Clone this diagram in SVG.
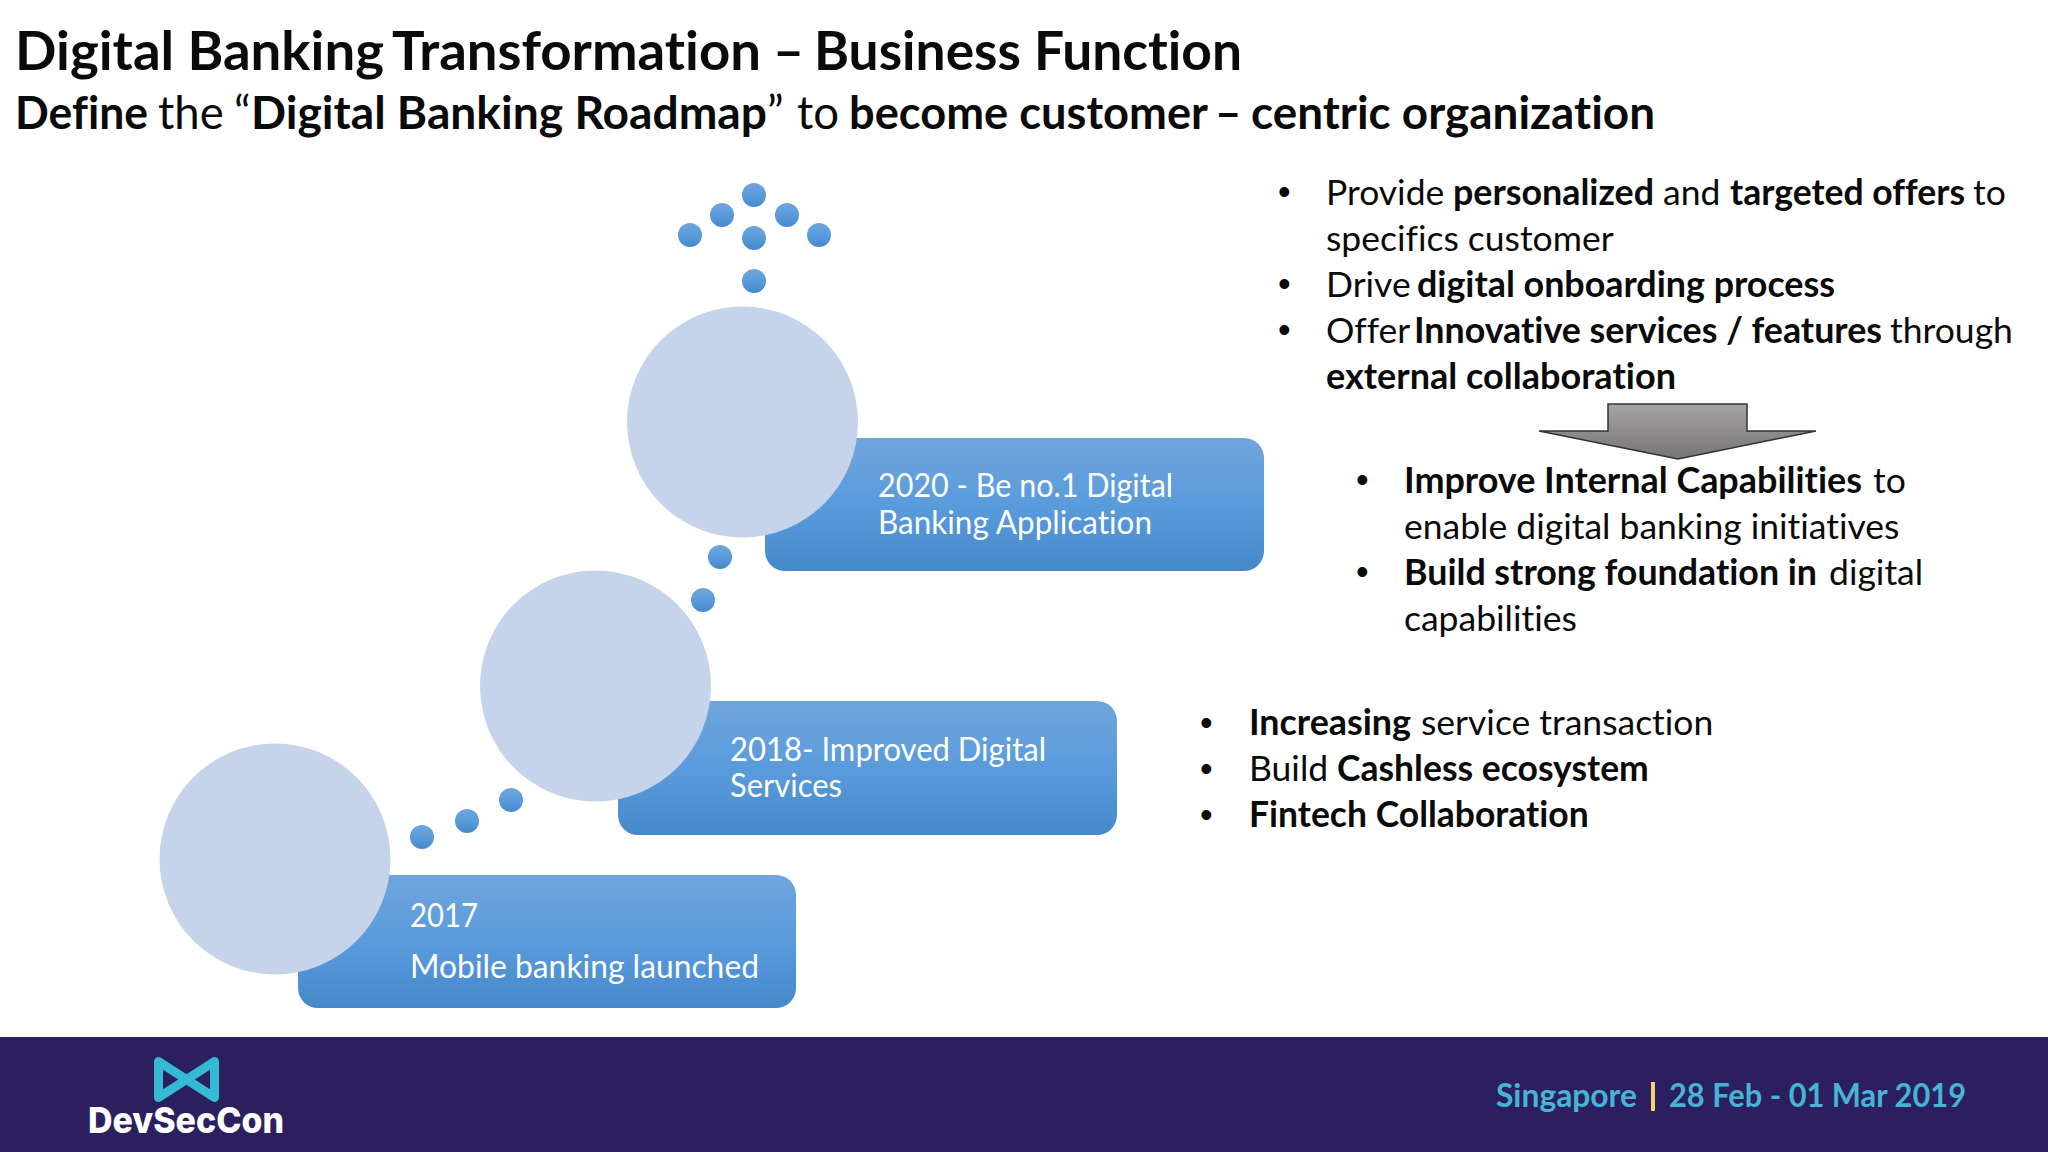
<svg xmlns="http://www.w3.org/2000/svg" width="2048" height="1152" viewBox="0 0 2048 1152">
<defs>
<linearGradient id="blue" x1="0" y1="0" x2="0" y2="1"><stop offset="0" stop-color="#70a5dc"/><stop offset="0.5" stop-color="#5a9bdc"/><stop offset="1" stop-color="#4589ca"/></linearGradient>
<linearGradient id="grey" x1="0" y1="0" x2="0" y2="1"><stop offset="0" stop-color="#a5a3a4"/><stop offset="1" stop-color="#767475"/></linearGradient>
</defs>
<style>
text{font-family:"Lato","Carlito","Liberation Sans",sans-serif;fill:#0a0a0a;font-variant-ligatures:none}
.b{font-weight:700}
.t{font-size:53.600px;font-weight:700}
.s{font-size:45.500px}
.p{font-size:35.500px}
.d{font-size:36px;font-family:"Liberation Sans",sans-serif}
.w{font-size:32px;fill:#fff}
.f{font-size:33px;font-weight:700;fill:#48b4d4}
.box{fill:url(#blue)}
.big{fill:#c5d4eb}
.dot{fill:url(#blue)}
</style>
<rect width="2048" height="1152" fill="#fff"/>
<g id="title">
<text class="t" x="15" y="70"><tspan textLength="369" lengthAdjust="spacingAndGlyphs">Digital Banking</tspan> <tspan x="392" textLength="369" lengthAdjust="spacingAndGlyphs">Transformation</tspan> <tspan x="773">–</tspan> <tspan x="814" textLength="428" lengthAdjust="spacingAndGlyphs">Business Function</tspan></text>
<text class="s" x="15" y="129"><tspan class="b" textLength="133" lengthAdjust="spacingAndGlyphs">Define</tspan> <tspan x="158">the</tspan> <tspan x="234">“</tspan><tspan class="b" x="251" textLength="516" lengthAdjust="spacingAndGlyphs">Digital Banking Roadmap</tspan><tspan x="767">”</tspan> <tspan x="797">to</tspan> <tspan class="b" x="849" textLength="359" lengthAdjust="spacingAndGlyphs">become customer</tspan> <tspan class="b" x="1215">–</tspan> <tspan class="b" x="1251" textLength="404" lengthAdjust="spacingAndGlyphs">centric organization</tspan></text>
</g>
<g id="connectors">
<circle class="dot" cx="754" cy="195" r="12"/><circle class="dot" cx="722" cy="215" r="12"/><circle class="dot" cx="787" cy="215" r="12"/><circle class="dot" cx="690" cy="235" r="12"/><circle class="dot" cx="819" cy="235" r="12"/><circle class="dot" cx="754" cy="238" r="12"/><circle class="dot" cx="754" cy="281" r="12"/>
<circle class="dot" cx="720" cy="557" r="12"/><circle class="dot" cx="703" cy="600" r="12"/>
<circle class="dot" cx="511" cy="800" r="12"/><circle class="dot" cx="467" cy="821" r="12"/><circle class="dot" cx="422" cy="837" r="12"/>
</g>
<g id="node-2020">
<rect class="box" x="765" y="438" width="499" height="133" rx="20"/>
<circle class="big" cx="742.500" cy="422" r="115.500"/>
<text class="w" x="878" y="497" textLength="295" lengthAdjust="spacingAndGlyphs">2020 - Be no.1 Digital</text>
<text class="w" x="878" y="534" textLength="274" lengthAdjust="spacingAndGlyphs">Banking Application</text>
</g>
<g id="node-2018">
<rect class="box" x="618" y="701" width="499" height="134" rx="20"/>
<circle class="big" cx="595.500" cy="686" r="115.500"/>
<text class="w" x="730" y="761" textLength="316" lengthAdjust="spacingAndGlyphs">2018- Improved Digital</text>
<text class="w" x="730" y="797" textLength="112" lengthAdjust="spacingAndGlyphs">Services</text>
</g>
<g id="node-2017">
<rect class="box" x="298" y="875" width="498" height="133" rx="20"/>
<circle class="big" cx="275" cy="859" r="115.500"/>
<text class="w" x="410" y="927" textLength="68" lengthAdjust="spacingAndGlyphs">2017</text>
<text class="w" x="410" y="978" textLength="349" lengthAdjust="spacingAndGlyphs">Mobile banking launched</text>
</g>
<g id="notes-2020">
<text class="d" x="1278" y="204">•</text><text class="p" x="1326" y="205">Provide <tspan class="b" x="1453" textLength="201" lengthAdjust="spacingAndGlyphs">personalized</tspan> <tspan x="1663">and</tspan> <tspan class="b" x="1730" textLength="235" lengthAdjust="spacingAndGlyphs">targeted offers</tspan> <tspan x="1973">to</tspan></text>
<text class="p" x="1326" y="251">specifics customer</text>
<text class="d" x="1278" y="296">•</text><text class="p" x="1326" y="297">Drive <tspan class="b" x="1417" textLength="418" lengthAdjust="spacingAndGlyphs">digital onboarding process</tspan></text>
<text class="d" x="1278" y="342">•</text><text class="p" x="1326" y="343">Offer <tspan class="b" x="1414" textLength="468" lengthAdjust="spacingAndGlyphs">Innovative services / features</tspan> <tspan x="1890">through</tspan></text>
<text class="p b" x="1326" y="389" textLength="350" lengthAdjust="spacingAndGlyphs">external collaboration</text>
</g>
<path id="down-arrow" d="M1608 404H1747V431H1816L1678 459L1539 431H1608Z" fill="url(#grey)" stroke="#333" stroke-width="1.500"/>
<g id="notes-internal">
<text class="d" x="1356" y="492">•</text><text class="p" x="1404" y="493"><tspan class="b" textLength="458" lengthAdjust="spacingAndGlyphs">Improve Internal Capabilities</tspan> <tspan x="1873">to</tspan></text>
<text class="p" x="1404" y="539">enable digital banking initiatives</text>
<text class="d" x="1356" y="584">•</text><text class="p" x="1404" y="585"><tspan class="b" textLength="413" lengthAdjust="spacingAndGlyphs">Build strong foundation in</tspan> <tspan x="1829">digital</tspan></text>
<text class="p" x="1404" y="631">capabilities</text>
</g>
<g id="notes-2018">
<text class="d" x="1200" y="735">•</text><text class="p" x="1249" y="735"><tspan class="b" textLength="162" lengthAdjust="spacingAndGlyphs">Increasing</tspan> <tspan x="1421">service transaction</tspan></text>
<text class="d" x="1200" y="781">•</text><text class="p" x="1249" y="781">Build <tspan class="b" x="1337">Cashless ecosystem</tspan></text>
<text class="d" x="1200" y="827">•</text><text class="p b" x="1249" y="827">Fintech Collaboration</text>
</g>
<g id="footer">
<rect y="1037" width="2048" height="115" fill="#2b1f60"/>
<path d="M158.500 1061.500L214.500 1097.500V1061.500L158.500 1097.500Z" fill="none" stroke="#36b9d3" stroke-width="9" stroke-linejoin="round"/>
<text x="88" y="1133" font-size="36" font-weight="800" style="fill:#fff;font-family:Inter,sans-serif" textLength="196" lengthAdjust="spacingAndGlyphs">DevSecCon</text>
<text class="f" x="1496" y="1107" textLength="141" lengthAdjust="spacingAndGlyphs">Singapore</text>
<rect x="1651" y="1082" width="4" height="29" fill="#f3d36b"/>
<text class="f" x="1669" y="1107" textLength="297" lengthAdjust="spacingAndGlyphs">28 Feb - 01 Mar 2019</text>
</g>
</svg>
